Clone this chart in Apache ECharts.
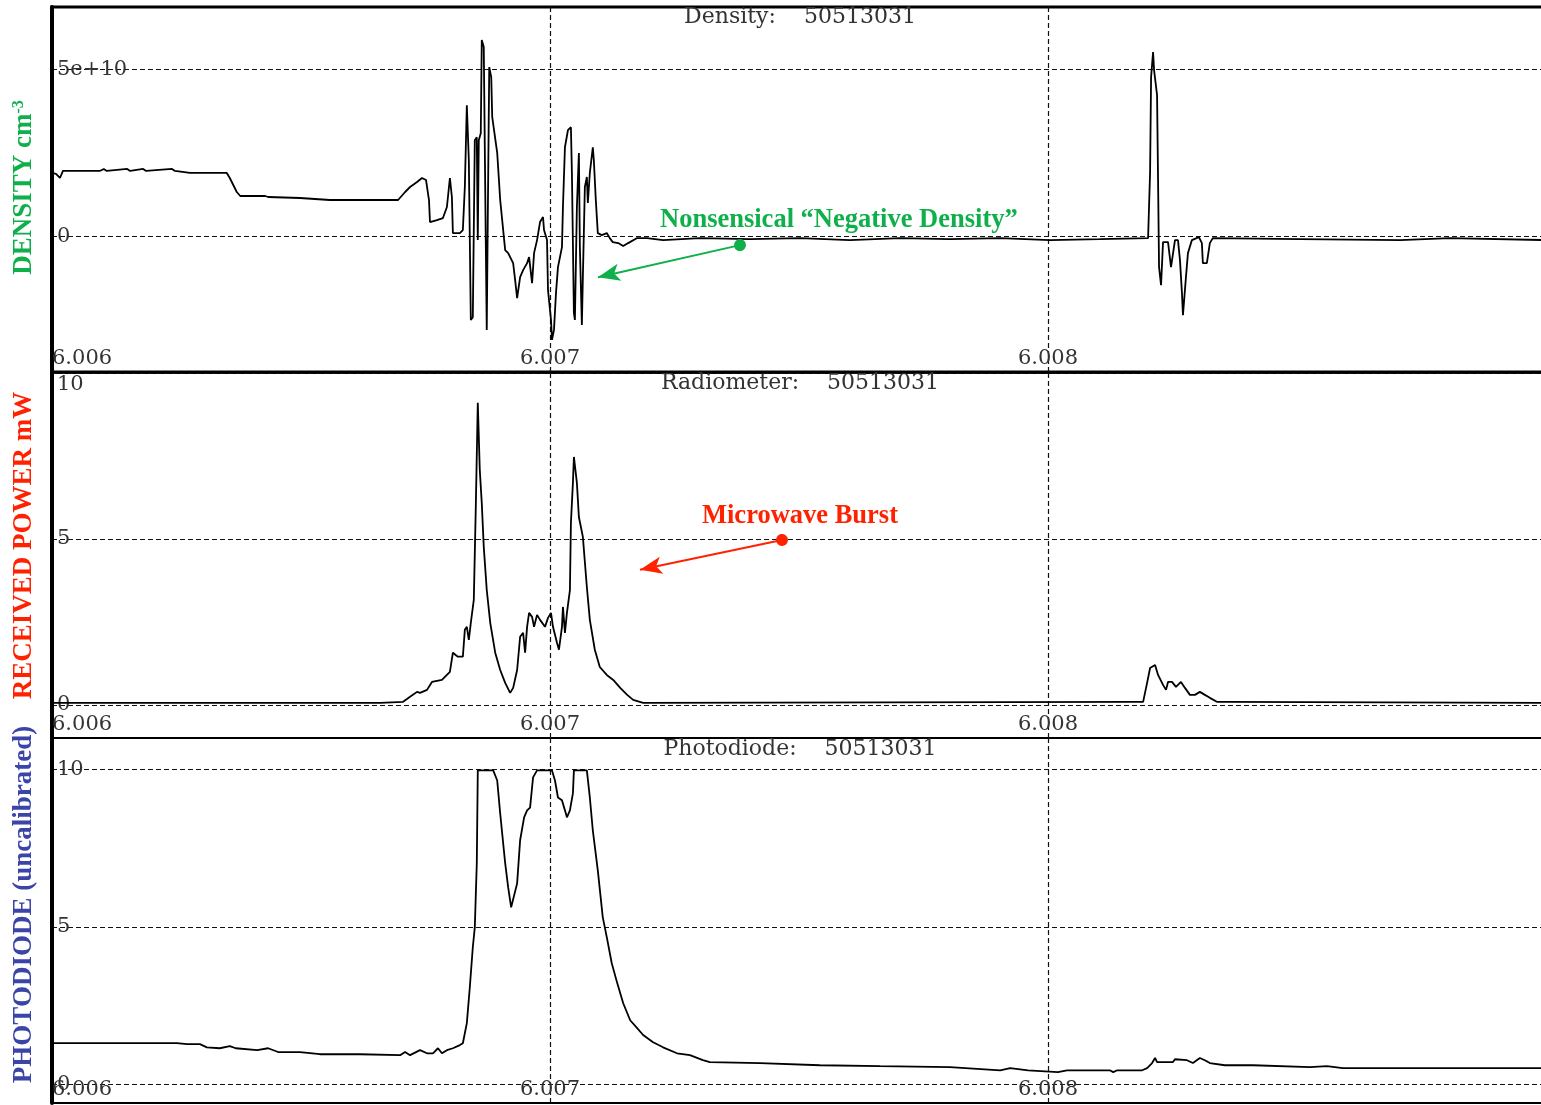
<!DOCTYPE html>
<html>
<head>
<meta charset="utf-8">
<title>Density / Radiometer / Photodiode 50513031</title>
<script src="https://cdn.jsdelivr.net/npm/echarts@6/dist/echarts.min.js"></script>
<style>
  html, body { margin: 0; padding: 0; background: #fff; }
  #main { width: 1541px; height: 1105px; }
</style>
</head>
<body>
<div id="main"></div>
<script>
// shot number in the panel titles
var shot = '50513031';

// [time in ms, value]; density in units of 1e10 cm^-3
var densityPts = [
  [6006.000,1.89],[6006.008,1.86],[6006.016,1.74],[6006.022,1.95],[6006.096,1.95],[6006.104,2.01],
  [6006.110,1.95],[6006.151,2.01],[6006.157,1.95],[6006.183,2.01],[6006.189,1.95],[6006.241,2.01],
  [6006.247,1.95],[6006.277,1.89],[6006.351,1.89],[6006.357,1.74],[6006.365,1.50],[6006.371,1.32],
  [6006.378,1.20],[6006.428,1.20],[6006.434,1.17],[6006.498,1.14],[6006.558,1.08],[6006.695,1.08],
  [6006.709,1.32],[6006.719,1.47],[6006.733,1.62],[6006.743,1.74],[6006.751,1.68],[6006.757,1.08],
  [6006.759,0.42],[6006.773,0.48],[6006.785,0.54],[6006.793,0.87],[6006.799,1.74],[6006.803,1.17],
  [6006.805,0.09],[6006.819,0.09],[6006.825,0.18],[6006.829,1.47],[6006.833,3.92],[6006.837,2.28],
  [6006.841,-2.51],[6006.845,-2.43],[6006.849,2.87],[6006.853,2.96],[6006.855,-0.12],[6006.857,2.87],
  [6006.861,3.08],[6006.863,5.87],[6006.867,5.66],[6006.871,-0.12],[6006.873,-2.81],[6006.876,1.98],
  [6006.878,5.06],[6006.882,4.76],[6006.884,3.56],[6006.888,3.56],[6006.894,2.49],[6006.900,1.08],
  [6006.906,0.18],[6006.910,-0.42],[6006.916,-0.51],[6006.926,-0.81],[6006.930,-1.32],[6006.934,-1.86],
  [6006.940,-1.23],[6006.946,-1.02],[6006.954,-0.81],[6006.958,-0.63],[6006.964,-1.41],[6006.968,-0.51],
  [6006.974,-0.12],[6006.980,0.42],[6006.986,0.57],[6006.988,0.18],[6006.994,-0.12],[6006.996,-1.62],
  [6007.002,-2.51],[6007.004,-3.11],[6007.008,-2.81],[6007.012,-1.71],[6007.016,-0.93],[6007.024,-0.33],
  [6007.026,0.87],[6007.030,2.66],[6007.036,3.17],[6007.042,3.26],[6007.044,1.89],[6007.048,-2.31],
  [6007.050,-2.51],[6007.054,0.87],[6007.058,2.49],[6007.060,-0.33],[6007.064,-2.66],[6007.066,-1.23],
  [6007.070,1.47],[6007.074,1.77],[6007.076,0.99],[6007.080,1.89],[6007.086,2.66],[6007.088,2.28],
  [6007.092,1.08],[6007.096,0.09],[6007.104,0.03],[6007.114,0.09],[6007.120,-0.06],[6007.126,-0.18],
  [6007.137,-0.21],[6007.147,-0.30],[6007.157,-0.21],[6007.175,-0.06],[6007.195,-0.06],[6007.227,-0.12],
  [6007.301,-0.06],[6007.402,-0.09],[6007.502,-0.06],[6007.602,-0.12],[6007.703,-0.06],[6007.803,-0.09],
  [6007.904,-0.06],[6008.004,-0.12],[6008.104,-0.09],[6008.201,-0.06],[6008.205,1.92],[6008.207,4.76],
  [6008.211,5.51],[6008.213,4.97],[6008.219,4.22],[6008.221,1.68],[6008.223,-0.93],[6008.227,-1.47],
  [6008.231,-0.18],[6008.241,-0.18],[6008.247,-0.93],[6008.251,-0.96],[6008.255,-0.12],[6008.261,-0.12],
  [6008.265,-0.72],[6008.269,-1.71],[6008.271,-2.37],[6008.277,-1.23],[6008.281,-0.51],[6008.289,-0.12],
  [6008.303,-0.03],[6008.309,-0.21],[6008.311,-0.81],[6008.319,-0.81],[6008.325,-0.21],[6008.331,-0.06],
  [6008.506,-0.09],[6008.707,-0.12],[6008.807,-0.06],[6009.000,-0.12]
];

// received power, mW
var radioPts = [
  [6006.000,0.06],[6006.659,0.06],[6006.705,0.09],[6006.719,0.24],[6006.733,0.39],[6006.739,0.36],
  [6006.753,0.45],[6006.763,0.69],[6006.783,0.75],[6006.793,0.90],[6006.799,0.99],[6006.805,1.57],
  [6006.815,1.45],[6006.825,1.45],[6006.829,2.26],[6006.833,2.35],[6006.837,1.96],[6006.841,2.47],
  [6006.847,3.16],[6006.851,5.96],[6006.855,9.10],[6006.857,9.10],[6006.859,7.08],[6006.863,6.08],
  [6006.867,4.76],[6006.873,3.46],[6006.880,2.47],[6006.890,1.57],[6006.900,1.05],[6006.910,0.66],
  [6006.920,0.36],[6006.926,0.51],[6006.934,1.05],[6006.940,2.05],[6006.946,2.17],[6006.950,1.57],
  [6006.954,2.35],[6006.958,2.77],[6006.964,2.65],[6006.968,2.35],[6006.974,2.71],[6006.980,2.56],
  [6006.990,2.35],[6006.996,2.62],[6007.002,2.77],[6007.006,2.35],[6007.014,1.87],[6007.018,1.66],
  [6007.024,2.35],[6007.026,2.95],[6007.030,2.17],[6007.034,2.77],[6007.040,3.46],[6007.042,5.48],
  [6007.046,6.69],[6007.048,7.47],[6007.052,7.47],[6007.054,6.69],[6007.058,5.66],[6007.066,5.06],
  [6007.074,3.55],[6007.080,2.56],[6007.090,1.66],[6007.100,1.14],[6007.114,0.90],[6007.127,0.75],
  [6007.141,0.51],[6007.155,0.30],[6007.167,0.15],[6007.187,0.06],[6008.165,0.09],[6008.191,0.09],
  [6008.199,0.66],[6008.205,1.11],[6008.215,1.20],[6008.221,0.90],[6008.231,0.60],[6008.237,0.45],
  [6008.241,0.69],[6008.249,0.69],[6008.257,0.54],[6008.267,0.69],[6008.275,0.51],[6008.285,0.30],
  [6008.295,0.30],[6008.305,0.39],[6008.315,0.30],[6008.325,0.21],[6008.339,0.09],[6008.361,0.09],
  [6008.365,0.06],[6009.000,0.06]
];

// photodiode, uncalibrated (saturates at 10)
var photoPts = [
  [6006.000,1.30],[6006.251,1.30],[6006.253,1.24],[6006.271,1.27],[6006.297,1.27],[6006.311,1.17],
  [6006.337,1.14],[6006.357,1.21],[6006.369,1.14],[6006.412,1.08],[6006.434,1.14],[6006.454,1.02],
  [6006.498,1.02],[6006.538,0.95],[6006.618,0.95],[6006.699,0.92],[6006.709,1.02],[6006.719,0.92],
  [6006.739,1.08],[6006.753,0.98],[6006.765,0.98],[6006.775,1.14],[6006.783,0.98],[6006.793,1.08],
  [6006.805,1.14],[6006.819,1.24],[6006.825,1.30],[6006.833,1.94],[6006.839,3.08],[6006.845,4.35],
  [6006.849,4.98],[6006.853,7.02],[6006.855,9.97],[6006.886,9.97],[6006.894,9.65],[6006.900,8.60],
  [6006.910,7.02],[6006.916,6.25],[6006.922,5.62],[6006.926,5.62],[6006.934,6.38],[6006.940,7.75],
  [6006.948,8.48],[6006.954,8.70],[6006.960,8.79],[6006.966,9.75],[6006.974,9.97],[6007.004,9.97],
  [6007.010,9.65],[6007.016,9.11],[6007.024,9.02],[6007.030,8.70],[6007.034,8.48],[6007.040,8.70],
  [6007.046,9.24],[6007.048,9.97],[6007.074,9.97],[6007.080,9.11],[6007.086,8.06],[6007.096,6.79],
  [6007.106,5.30],[6007.114,4.67],[6007.124,3.84],[6007.135,3.21],[6007.147,2.57],[6007.161,2.03],
  [6007.175,1.78],[6007.187,1.56],[6007.207,1.33],[6007.227,1.17],[6007.255,0.98],[6007.281,0.92],
  [6007.307,0.76],[6007.321,0.70],[6007.422,0.67],[6007.542,0.60],[6007.663,0.57],[6007.803,0.54],
  [6007.904,0.44],[6007.924,0.51],[6007.960,0.44],[6008.020,0.38],[6008.038,0.44],[6008.124,0.44],
  [6008.131,0.38],[6008.139,0.44],[6008.189,0.44],[6008.199,0.51],[6008.209,0.67],[6008.215,0.83],
  [6008.219,0.70],[6008.251,0.70],[6008.255,0.79],[6008.279,0.76],[6008.291,0.67],[6008.305,0.83],
  [6008.315,0.76],[6008.325,0.67],[6008.355,0.60],[6008.412,0.60],[6008.526,0.54],[6008.560,0.57],
  [6008.592,0.51],[6008.641,0.51],[6008.683,0.51],[6009.000,0.51]
];

// labelled y ticks
var densityTicks = [0, 5e10];
var radioTicks = [0, 5, 10];
var photoTicks = [0, 5, 10];

var titles = ['Density:    ' + shot, 'Radiometer:    ' + shot, 'Photodiode:    ' + shot];

var green = '#0fb04c', red = '#ff2200', blue = '#3b45a8';
var serif = 'DejaVu Serif';
var gridLine = { color: '#111', width: 1.2, type: [5, 3] };

var chart = echarts.init(document.getElementById('main'));

function xAxisFor(i) {
  return {
    gridIndex: i, type: 'value', min: 6006, max: 6009, interval: 1,
    axisLine: { show: false }, axisTick: { show: false },
    axisLabel: {
      inside: true, margin: 3, showMaxLabel: false, alignMinLabel: 'left',
      fontFamily: serif, fontSize: 21, color: '#333',
      formatter: function (v) { return (v / 1000).toFixed(3); }
    },
    splitLine: { show: true, lineStyle: gridLine }
  };
}

function yAxisFor(i, min, max, ticks, fmt, name, color, shift) {
  return {
    gridIndex: i, type: 'value', min: min, max: max,
    axisLine: { show: true, onZero: false, lineStyle: { color: '#000', width: 4 } },
    axisTick: { show: false, customValues: ticks },
    axisLabel: {
      inside: true, margin: 5, customValues: ticks,
      fontFamily: serif, fontSize: 21, color: '#333',
      formatter: fmt,
      rich: { low: { fontFamily: serif, fontSize: 21, color: '#333', padding: [24, 0, 0, 0] } }
    },
    splitLine: { show: true, lineStyle: gridLine },
    name: name, nameLocation: 'middle', nameRotate: 90, nameGap: 14,
    nameTextStyle: {
      fontFamily: 'Liberation Serif', fontWeight: 'bold', fontSize: 27, color: color,
      padding: [0, 0, 0, shift],
      rich: {
        a: { fontFamily: 'Liberation Serif', fontWeight: 'bold', fontSize: 27, color: color },
        s: { fontFamily: 'Liberation Serif', fontWeight: 'bold', fontSize: 16, color: color, verticalAlign: 'top' }
      }
    }
  };
}

function gridFor(top, bw) {
  return { left: 52, top: top, width: 1494, height: 365, outerBoundsMode: 'none', containLabel: false,
    show: true, borderColor: '#000', borderWidth: bw };
}

var option = {
  animation: false,
  backgroundColor: '#fff',
  title: titles.map(function (t, i) {
    return {
      text: t, left: 800, top: [5, 371, 737][i], textAlign: 'center', padding: 0,
      textStyle: { fontFamily: serif, fontSize: 22, fontWeight: 'normal', color: '#333', lineHeight: 24 }
    };
  }),
  grid: [gridFor(7, 3), gridFor(373, 2), gridFor(738, 2)],
  xAxis: [xAxisFor(0), xAxisFor(1), xAxisFor(2)],
  yAxis: [
    yAxisFor(0, -4.07e10, 6.86e10, densityTicks,
      function (v) { return v === 0 ? '0' : v.toExponential(0); },
      '{a|DENSITY cm}{s|-3}', green, 4),
    yAxisFor(1, -1, 10, radioTicks,
      function (v) { return v === 10 ? '{low|10}' : String(v); },
      'RECEIVED POWER mW', red, 20),
    yAxisFor(2, -0.6, 11, photoTicks,
      function (v) { return String(v); },
      'PHOTODIODE (uncalibrated)', blue, 32)
  ],
  graphic: [
    { type: 'text', x: 660, y: 220, z: 10,
      style: { text: 'Nonsensical \u201cNegative Density\u201d', fill: green,
        font: 'bold 26.5px "Liberation Serif"', align: 'left', verticalAlign: 'middle' } },
    { type: 'text', x: 800, y: 516, z: 10,
      style: { text: 'Microwave Burst', fill: red,
        font: 'bold 26.5px "Liberation Serif"', align: 'center', verticalAlign: 'middle' } }
  ],
  series: [
    {
      type: 'line', xAxisIndex: 0, yAxisIndex: 0, showSymbol: false, symbol: 'none',
      lineStyle: { color: '#000', width: 1.8 },
      data: densityPts.map(function (p) { return [p[0], p[1] * 1e10]; }),
      markLine: {
        silent: true, animation: false, label: { show: false },
        lineStyle: { color: green, width: 2, type: 'solid' },
        data: [[
          { coord: [6007.3815, -0.27e10], symbol: 'circle', symbolSize: 12 },
          { coord: [6007.0964, -1.23e10], symbol: 'arrow', symbolSize: [13, 22] }
        ]]
      }
    },
    {
      type: 'line', xAxisIndex: 1, yAxisIndex: 1, showSymbol: false, symbol: 'none',
      lineStyle: { color: '#000', width: 1.8 },
      data: radioPts,
      markLine: {
        silent: true, animation: false, label: { show: false },
        lineStyle: { color: red, width: 2, type: 'solid' },
        data: [[
          { coord: [6007.4659, 4.97], symbol: 'circle', symbolSize: 12 },
          { coord: [6007.1807, 4.07], symbol: 'arrow', symbolSize: [13, 22] }
        ]]
      }
    },
    {
      type: 'line', xAxisIndex: 2, yAxisIndex: 2, showSymbol: false, symbol: 'none',
      lineStyle: { color: '#000', width: 1.8 },
      data: photoPts
    }
  ]
};

chart.setOption(option);
</script>
</body>
</html>
